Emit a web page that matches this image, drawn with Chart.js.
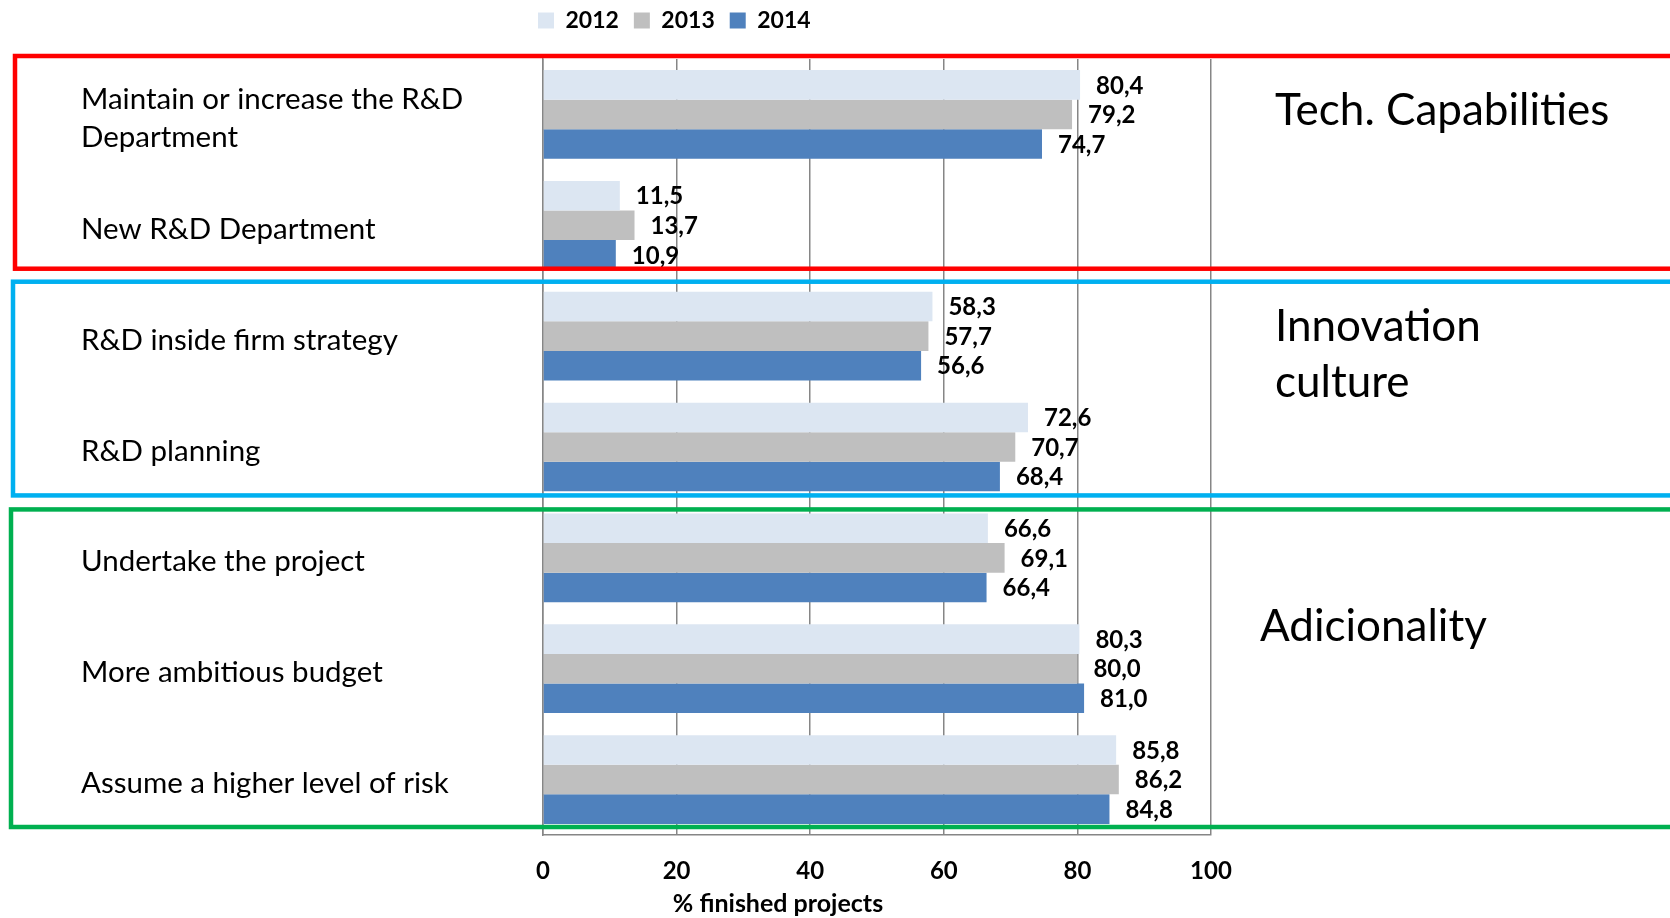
<!DOCTYPE html>
<html>
<head>
<meta charset="utf-8">
<script src="https://cdn.jsdelivr.net/npm/chart.js@4.4.1/dist/chart.umd.min.js"></script>
<style>
  html, body { margin: 0; padding: 0; background: #fff; }
  #wrap { width: 1670px; height: 918px; }
</style>
</head>
<body>
<div id="wrap"><canvas id="chart" width="1670" height="918"></canvas></div>
<script>
const categories = [
    ['Maintain or increase the R&D', 'Department'],
    'New R&D Department',
    'R&D inside firm strategy',
    'R&D planning',
    'Undertake the project',
    'More ambitious budget',
    'Assume a higher level of risk'
];
const years = ['2012', '2013', '2014'];
const values2012 = [80.4, 11.5, 58.3, 72.6, 66.6, 80.3, 85.8];
const values2013 = [79.2, 13.7, 57.7, 70.7, 69.1, 80.0, 86.2];
const values2014 = [74.7, 10.9, 56.6, 68.4, 66.4, 81.0, 84.8];
const xTicks = [0, 20, 40, 60, 80, 100];
const xTitle = '% finished projects';

// groups of rows framed on the chart
const groupNames = [['Tech. Capabilities'], ['Innovation', 'culture'], ['Adicionality']];
const groupFirst = [0, 2, 4];
const groupLast = [1, 3, 6];
const groupColors = ['#FF0000', '#00B0F0', '#00B050'];

const barColors = ['#DCE6F2', '#BFBFBF', '#4F81BD'];
const FONT = 'Lato';

// value at the end of each bar, decimal comma
const valueLabels = {
    id: 'valueLabels',
    afterDatasetsDraw(chart) {
        const ctx = chart.ctx;
        ctx.save();
        ctx.font = 'bold 24px ' + FONT;
        ctx.fillStyle = '#000';
        ctx.textAlign = 'left';
        ctx.textBaseline = 'middle';
        chart.data.datasets.forEach((ds, i) => {
            chart.getDatasetMeta(i).data.forEach((bar, j) => {
                ctx.fillText(ds.data[j].toFixed(1).replace('.', ','), bar.x + 16, bar.y + 1);
            });
        });
        ctx.restore();
    }
};

// axis title sits left of the plot centre
const axisTitle = {
    id: 'axisTitle',
    afterDraw(chart) {
        const ctx = chart.ctx;
        const x = chart.scales.x;
        ctx.save();
        ctx.font = 'bold 25px ' + FONT;
        ctx.fillStyle = '#000';
        ctx.textAlign = 'center';
        ctx.textBaseline = 'middle';
        ctx.fillText(xTitle, x.left + 235, x.bottom - 14);
        ctx.restore();
    }
};

// coloured frames round the row groups, with the group name on the right
const groupFrames = {
    id: 'groupFrames',
    afterDraw(chart) {
        const ctx = chart.ctx;
        const area = chart.chartArea;
        const band = (area.bottom - area.top) / categories.length;
        const edge = i => area.top + i * band;
        // [left, top shift, bottom shift, text x from plot right, text y from frame top]
        const place = [[15, -3, -12, 64, 55], [13, 1, -7, 64, 45], [11, 7, -8, 49, 117]];
        ctx.save();
        groupNames.forEach((name, g) => {
            const p = place[g];
            const top = edge(groupFirst[g]) + p[1];
            const bottom = edge(groupLast[g] + 1) + p[2];
            ctx.strokeStyle = groupColors[g];
            ctx.lineWidth = 4.5;
            ctx.strokeRect(p[0], top, chart.width + 20, bottom - top);

            ctx.fillStyle = '#000';
            ctx.font = '44px ' + FONT;
            ctx.textAlign = 'left';
            ctx.textBaseline = 'middle';
            name.forEach((line, k) => {
                ctx.fillText(line, area.right + p[3], top + p[4] + k * 56);
            });
        });
        ctx.restore();
    }
};

// legend sits over the left half of the plot, close to the top edge
const legendPlace = {
    id: 'legendPlace',
    afterLayout(chart) {
        const lg = chart.legend;
        const w = lg.right - lg.left;
        const h = lg.bottom - lg.top;
        lg.left = 523;
        lg.right = lg.left + w;
        lg.top = -6;
        lg.bottom = lg.top + h;
    }
};

function drawChart() {
    const ctx = document.getElementById('chart').getContext('2d');
    new Chart(ctx, {
        type: 'bar',
        data: {
            labels: categories,
            datasets: [values2012, values2013, values2014].map((vals, i) => ({
                label: years[i],
                data: vals,
                backgroundColor: barColors[i],
                borderWidth: 0,
                barPercentage: 1,
                categoryPercentage: 0.8
            }))
        },
        options: {
            responsive: false,
            animation: false,
            indexAxis: 'y',
            layout: { padding: { left: 81, right: 459, top: 11, bottom: 0 } },
            plugins: {
                legend: {
                    position: 'top',
                    align: 'start',
                    labels: {
                        boxWidth: 16,
                        boxHeight: 16,
                        padding: 15,
                        color: '#000',
                        font: { family: FONT, size: 23, weight: 'bold' }
                    }
                },
                tooltip: { enabled: false }
            },
            scales: {
                x: {
                    min: 0,
                    max: 100,
                    afterBuildTicks: scale => { scale.ticks = xTicks.map(v => ({ value: v })); },
                    afterFit: scale => { scale.height = 83; },
                    ticks: {
                        color: '#000',
                        padding: 22,
                        font: { family: FONT, size: 24, weight: 'bold' }
                    },
                    grid: { color: '#868686', lineWidth: 1.5, drawTicks: false },
                    border: { color: '#868686', width: 1.5 }
                },
                y: {
                    afterFit: scale => { scale.width = 462; },
                    ticks: {
                        crossAlign: 'far',
                        autoSkip: false,
                        labelOffset: 4,
                        color: '#000',
                        font: { family: FONT, size: 29.5, lineHeight: 1.3 }
                    },
                    grid: { display: false },
                    border: { color: '#868686', width: 1.5 }
                }
            }
        },
        plugins: [legendPlace, valueLabels, axisTitle, groupFrames]
    });
}

Promise.all([
    document.fonts.load('29px ' + FONT),
    document.fonts.load('bold 23px ' + FONT)
]).then(drawChart, drawChart);
</script>
</body>
</html>
